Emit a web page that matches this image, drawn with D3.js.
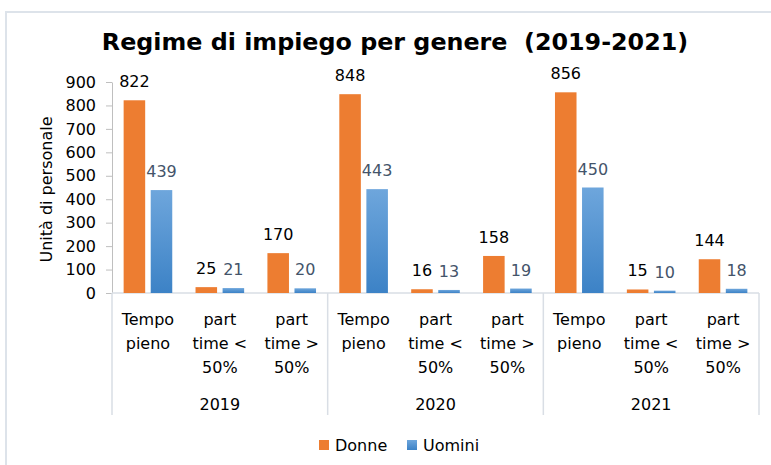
<!DOCTYPE html>
<html>
<head>
<meta charset="utf-8">
<script src="https://cdn.jsdelivr.net/npm/d3@7"></script>
<style>
  body { margin: 0; background: #fff; }
  svg { display: block; font-family: "DejaVu Sans", Verdana, sans-serif; }
</style>
</head>
<body>
<svg id="chart" width="771" height="465"></svg>
<script>
// data
const years = ['2019', '2020', '2021']
const regimes = [ ['Tempo', 'pieno'], ['part', 'time <', '50%'], ['part', 'time >', '50%'] ]
const series = ['Donne', 'Uomini']
const donne  = [822, 25, 170, 848, 16, 158, 856, 15, 144]
const uomini = [439, 21, 20, 443, 13, 19, 450, 10, 18]
const yTicks = [0, 100, 200, 300, 400, 500, 600, 700, 800, 900]
const colors = { Donne: '#ed7d31', Uomini: '#5b9bd5' }

const svg = d3.select('#chart')

// frame of the chart object
svg.append('path')
    .attr('d', 'M6,465 V12 H771')
    .attr('fill', 'none')
    .attr('stroke', '#dde3ea')
    .attr('stroke-width', 2)

// blue gradient like the excel bars
const grad = svg.append('defs').append('linearGradient')
    .attr('id', 'blueGrad').attr('x1', 0).attr('x2', 0).attr('y1', 0).attr('y2', 1)
grad.append('stop').attr('offset', '0%').attr('stop-color', '#6ea6dc')
grad.append('stop').attr('offset', '100%').attr('stop-color', '#3c82c6')

const plotLeft = 112, plotRight = 759, plotTop = 82, plotBase = 293

const keys = []
years.forEach( y => regimes.forEach( (r, i) => keys.push( `${y}|${i}` ) ) )

const x = d3.scaleBand().domain(keys).range([plotLeft, plotRight]).padding(0)
const xs = d3.scaleBand().domain(series).range([0, x.bandwidth()])
    .paddingInner(0.204).paddingOuter(0.43)
const yScale = d3.scaleLinear().domain([0, 900]).range([plotBase, plotTop])

// title
svg.append('text')
    .attr('x', 395).attr('y', 50)
    .attr('text-anchor', 'middle')
    .style('font-size', '23.8px').style('font-weight', 'bold').style('white-space', 'pre')
    .attr('fill', '#000')
    .text('Regime di impiego per genere  (2019-2021)')

// y axis
const yAxis = d3.axisLeft(yScale)
    .tickValues(yTicks)
    .tickSizeInner(6)
    .tickSizeOuter(0)
    .tickPadding(10)

const gy = svg.append('g')
    .attr('transform', `translate(${plotLeft}, 0)`)
    .call(yAxis)
gy.select('.domain').attr('stroke', '#bfbfbf')
gy.selectAll('.tick line').attr('stroke', '#bfbfbf')
gy.selectAll('.tick text').attr('fill', '#000').style('font-size', '16px')
    .style('font-family', '"DejaVu Sans", Verdana, sans-serif')

svg.append('text')
    .attr('transform', `translate(52, ${(plotTop + plotBase) / 2 + 2}) rotate(-90)`)
    .attr('text-anchor', 'middle')
    .style('font-size', '16px')
    .text('Unità di personale')

// category axis: baseline + separators
svg.append('line')
    .attr('x1', plotLeft).attr('x2', plotRight).attr('y1', plotBase).attr('y2', plotBase)
    .attr('stroke', '#d9dee5').attr('stroke-width', 1.5)

const sepX = years.map( y => x(`${y}|0`) ).concat([plotRight])
svg.selectAll('.sep').data(sepX).enter().append('line')
    .attr('class', 'sep')
    .attr('x1', d => d).attr('x2', d => d)
    .attr('y1', plotBase).attr('y2', 415)
    .attr('stroke', '#d9dee5').attr('stroke-width', 1.5)

// bars
const rows = keys.map( (k, i) => ({ key: k, Donne: donne[i], Uomini: uomini[i] }) )

const groups = svg.selectAll('.cat').data(rows).enter().append('g')
    .attr('class', 'cat')
    .attr('transform', d => `translate(${x(d.key)}, 0)`)

groups.selectAll('rect').data( d => series.map( s => ({ s, v: d[s] }) ) ).enter().append('rect')
    .attr('x', d => xs(d.s))
    .attr('width', xs.bandwidth())
    .attr('y', d => yScale(d.v))
    .attr('height', d => plotBase - yScale(d.v))
    .attr('fill', d => d.s === 'Uomini' ? 'url(#blueGrad)' : colors.Donne)

groups.selectAll('.lbl').data( d => series.map( s => ({ s, v: d[s] }) ) ).enter().append('text')
    .attr('class', 'lbl')
    .attr('x', d => xs(d.s) + xs.bandwidth() / 2)
    .attr('y', d => yScale(d.v) - 13)
    .attr('text-anchor', 'middle')
    .style('font-size', '16px')
    .attr('fill', d => d.s === 'Uomini' ? '#44546a' : '#000')
    .text(d => d.v)

// category labels
groups.each( function(d) {
    const lines = regimes[ +d.key.split('|')[1] ]
    const t = d3.select(this).append('text')
        .attr('text-anchor', 'middle')
        .style('font-size', '16px')
        .attr('fill', '#000')
    lines.forEach( (ln, i) => {
        t.append('tspan').attr('x', x.bandwidth() / 2).attr('y', 325 + i * 24).text(ln)
    })
})

svg.selectAll('.year').data(years).enter().append('text')
    .attr('class', 'year')
    .attr('x', y => x(`${y}|1`) + x.bandwidth() / 2)
    .attr('y', 410)
    .attr('text-anchor', 'middle')
    .style('font-size', '16px')
    .text(y => y)

// legend
const legend = svg.append('g').attr('transform', 'translate(319, 440)')
const items = legend.selectAll('g').data(series).enter().append('g')
    .attr('transform', (d, i) => `translate(${i * 88}, 0)`)
items.append('rect').attr('width', 10).attr('height', 10)
    .attr('fill', d => d === 'Uomini' ? 'url(#blueGrad)' : colors.Donne)
items.append('text').attr('x', 16).attr('y', 10.5)
    .style('font-size', '16px')
    .text(d => d)
</script>
</body>
</html>
